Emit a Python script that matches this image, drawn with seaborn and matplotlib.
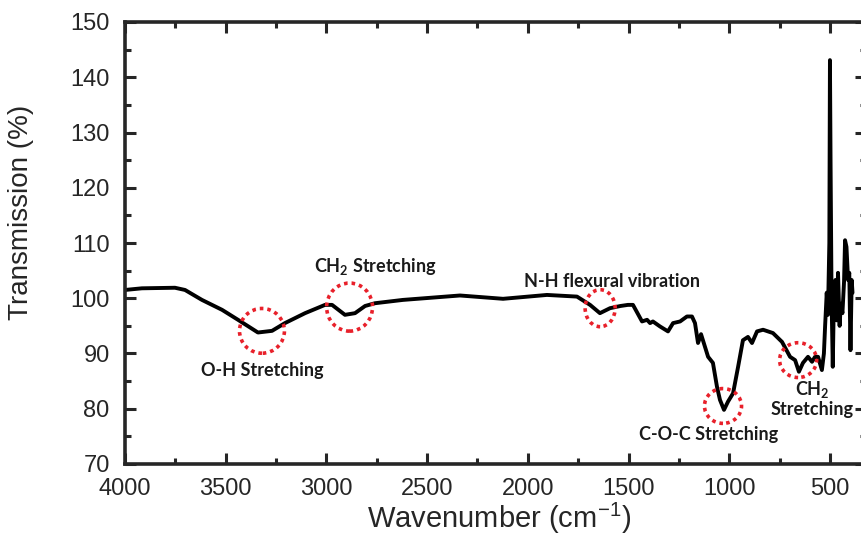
import matplotlib
matplotlib.use("Agg")
import matplotlib.pyplot as plt
import seaborn as sns
import pandas as pd
from matplotlib.patches import Ellipse

# ---- data ----
wavenumber = [4000, 3916, 3752, 3702, 3618, 3518, 3439, 3340, 3270, 3206,
              3106, 3007, 2972, 2908, 2858, 2808, 2759, 2620, 2337, 2123,
              1905, 1756, 1691, 1642, 1592, 1540, 1503, 1478, 1433, 1408,
              1393, 1379, 1344, 1304, 1279, 1244, 1210, 1185, 1170, 1155,
              1140, 1105, 1081, 1061, 1046, 1026, 1006, 981, 956, 932,
              907, 887, 862, 832, 783, 738, 698, 673, 654, 634,
              609, 589, 574, 559, 540, 530, 524, 516, 510, 503,
              500, 497, 492, 486, 480, 473, 466, 460, 452, 446,
              438, 430, 425, 418, 410, 404, 398, 392, 388]
transmission = [101.5, 101.8, 101.9, 101.5, 99.7, 97.9, 96.1, 93.8, 94.1, 95.5,
                97.3, 98.8, 98.8, 97.0, 97.3, 98.6, 99.1, 99.7, 100.5, 99.9,
                100.6, 100.3, 98.8, 97.3, 98.2, 98.6, 98.8, 98.8, 95.8, 96.1,
                95.5, 95.8, 94.9, 94.0, 95.5, 95.8, 96.7, 96.7, 95.5, 91.9,
                93.5, 89.4, 88.3, 84.0, 81.6, 79.8, 81.3, 82.8, 87.6, 92.4,
                93.0, 91.9, 94.0, 94.3, 93.7, 92.1, 89.4, 88.8, 86.7, 88.3,
                89.4, 88.5, 89.4, 89.4, 87.0, 90.0, 95.0, 101.0, 97.0, 110.0,
                143.1, 125.0, 100.0, 87.6, 101.0, 103.3, 96.0, 104.6, 95.0, 99.0,
                97.3, 103.0, 110.5, 109.3, 103.3, 104.6, 90.6, 103.3, 101.0]

# annotation circles (centre wavenumber, centre transmission, width, height)
circle_x = [3320, 2885, 1641, 1031, 658]
circle_y = [94.1, 98.4, 98.2, 80.5, 88.8]
circle_w = [223, 228, 149, 184, 184]
circle_h = [8.1, 8.7, 6.7, 6.3, 6.3]

label_text = ["O-H Stretching", r"CH$_{\mathbf{2}}$ Stretching",
              "N-H flexural vibration", "C-O-C Stretching",
              "CH$_{\\mathbf{2}}$\nStretching"]
label_x = [3320, 2759, 1582, 1105, 589]
label_y = [87.0, 105.7, 103.1, 75.3, 81.9]

x_ticks = [4000, 3500, 3000, 2500, 2000, 1500, 1000, 500]
x_minor = [3750, 3250, 2750, 2250, 1750, 1250, 750]
y_ticks = [70, 80, 90, 100, 110, 120, 130, 140, 150]
y_minor = [75, 85, 95, 105, 115, 125, 135, 145]

# ---- styling ----
sns.set_style("ticks")
plt.rcParams["font.family"] = ["Liberation Sans", "DejaVu Sans"]
plt.rcParams["mathtext.fontset"] = "custom"
plt.rcParams["mathtext.sf"] = "Liberation Sans"
plt.rcParams["mathtext.rm"] = "Liberation Sans"
plt.rcParams["mathtext.bf"] = "Lato:bold"

df = pd.DataFrame({"Wavenumber": wavenumber, "Transmission": transmission})

fig = plt.figure(figsize=(8.62, 5.40), dpi=100)
ax = fig.add_axes([125 / 862, 76 / 540, 741 / 862, 442 / 540])

sns.lineplot(data=df, x="Wavenumber", y="Transmission", ax=ax,
             color="black", linewidth=2.8, estimator=None, sort=False)

ax.set_xticks(x_ticks)
ax.set_xticks(x_minor, minor=True)
ax.set_yticks(y_ticks)
ax.set_yticks(y_minor, minor=True)
ax.set_xlim(4000, 321)
ax.set_ylim(70, 150)
ax.tick_params(which="both", direction="in", top=True, right=True,
               width=2.2, labelsize=17)
ax.tick_params(axis="x", which="both", pad=10)
ax.tick_params(axis="y", which="both", pad=11)
ax.tick_params(which="major", length=8)
ax.tick_params(which="minor", length=4)
for sp in ax.spines.values():
    sp.set_linewidth(2.6)
    sp.set_visible(True)

ax.set_xlabel(r"Wavenumber (cm$^{\mathsf{-1}}$)", fontsize=21)
ax.set_ylabel("Transmission (%)", fontsize=20)
ax.xaxis.set_label_coords(0.505, -0.084)
ax.yaxis.set_label_coords(-0.123, 0.57)

for cx, cy, cw, ch in zip(circle_x, circle_y, circle_w, circle_h):
    ax.add_patch(Ellipse((cx, cy), cw, ch, fill=False, edgecolor="#e8202a",
                         linewidth=2.6, linestyle=(0, (1, 1.1)), zorder=3))

for t, lx, ly in zip(label_text, label_x, label_y):
    ax.text(lx, ly, t, ha="center", va="center", fontsize=13,
            fontweight="bold", family=["Lato", "DejaVu Sans"],
            color="#1a1a1a", linespacing=1.1, zorder=4)

fig.savefig("out.png", dpi=100)
